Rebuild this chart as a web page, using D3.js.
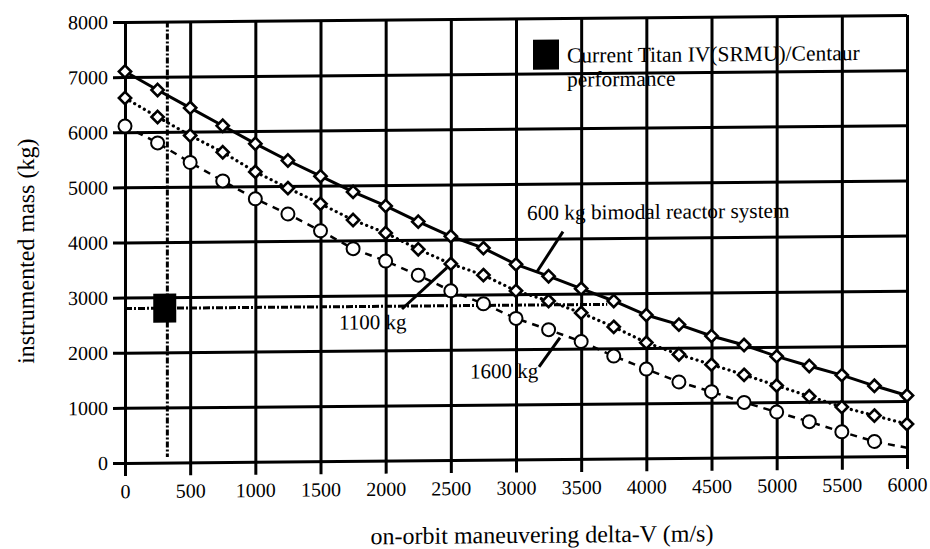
<!DOCTYPE html>
<html><head><meta charset="utf-8">
<script src="https://cdn.jsdelivr.net/npm/d3@7"></script>
<style>body{margin:0;background:#fff}svg text{font-family:"Liberation Serif","Times New Roman",serif;fill:#000}</style>
</head><body><svg id="c" width="930" height="549"></svg>
<script>
// ---- data ----
const deltaV = [0,250,500,750,1000,1250,1500,1750,2000,2250,2500,2750,3000,3250,3500,3750,4000,4250,4500,4750,5000,5250,5500,5750,6000];
const mass600 = [7100,6760,6430,6100,5770,5460,5170,4880,4620,4330,4060,3840,3540,3320,3090,2860,2600,2420,2210,2040,1830,1650,1480,1280,1100];
const mass1100 = [6620,6270,5930,5620,5260,4960,4670,4370,4130,3830,3560,3350,3060,2870,2650,2390,2100,1880,1690,1500,1300,1100,900,740,580];
const mass1600 = [6110,5800,5440,5100,4770,4490,4180,3850,3620,3360,3070,2830,2560,2350,2130,1860,1620,1380,1200,1000,820,640,450,270,150];
const xTicks = [0,500,1000,1500,2000,2500,3000,3500,4000,4500,5000,5500,6000];
const yTicks = [0,1000,2000,3000,4000,5000,6000,7000,8000];
const titanDeltaV = 305, titanMass = 2800;
const guideDeltaV = 325, guideMass = 2800;
const guideVEnd = 100, guideHEnd = 3700;
const legendText = ["Current Titan IV(SRMU)/Centaur", "performance"];
const labels = ["600 kg bimodal reactor system", "1100 kg", "1600 kg"];
const xTitle = "on-orbit maneuvering delta-V (m/s)";
const yTitle = "instrumented mass (kg)";

// ---- layout ----
const L = 125, R = 907, T = 18.5, B = 459.5;
const svg = d3.select("#c");
const g = svg.append("g").attr("transform","translate(516,240) skewY(-0.5) translate(-516,-240)");
const x = d3.scaleLinear().domain([0,6000]).range([L,R]);
const y = d3.scaleLinear().domain([0,8000]).range([B,T]);

// grid
const gx = g.append("g").attr("transform",`translate(0,${B})`)
  .call(d3.axisBottom(x).tickValues(xTicks).tickSize(-(B-T)).tickFormat(""));
gx.selectAll("line").attr("stroke","#000").attr("stroke-width",3);
gx.select(".domain").remove();
const gy = g.append("g").attr("transform",`translate(${L},0)`)
  .call(d3.axisLeft(y).tickValues(yTicks).tickSize(-(R-L)).tickFormat(""));
gy.selectAll("line").attr("stroke","#000").attr("stroke-width",3);
gy.select(".domain").remove();

// axes with outer ticks and labels
const ax = g.append("g").attr("transform",`translate(0,${B})`)
  .call(d3.axisBottom(x).tickValues(xTicks).tickSize(13).tickPadding(8).tickFormat(d3.format("d")));
ax.select(".domain").remove();
ax.attr("font-family","Liberation Serif");
ax.selectAll("line").attr("stroke","#000").attr("stroke-width",3);
ax.selectAll("text").attr("font-size",20).attr("fill","#000");
const ay = g.append("g").attr("transform",`translate(${L},0)`)
  .call(d3.axisLeft(y).tickValues(yTicks).tickSize(12).tickPadding(5).tickFormat(d3.format("d")));
ay.select(".domain").remove();
ay.attr("font-family","Liberation Serif");
ay.selectAll("line").attr("stroke","#000").attr("stroke-width",3);
ay.selectAll("text").attr("font-size",20).attr("fill","#000");

// reference guide lines
g.append("line").attr("x1",x(guideDeltaV)).attr("x2",x(guideDeltaV))
  .attr("y1",y(8000)).attr("y2",y(guideVEnd))
  .attr("stroke","#000").attr("stroke-width",3).attr("stroke-dasharray","6,2,2,2");
g.append("line").attr("x1",x(0)).attr("x2",x(guideHEnd))
  .attr("y1",y(guideMass)).attr("y2",y(guideMass))
  .attr("stroke","#000").attr("stroke-width",3).attr("stroke-dasharray","7,2,2,2");

// series lines
const series = [
  {vals: mass600, dash: null, width: 3, marker: "diamond"},
  {vals: mass1100, dash: "0.1,5.5", width: 3.2, marker: "diamond", cap: "round"},
  {vals: mass1600, dash: "7,6", width: 2.5, marker: "circle", skipLast: true}
];
const line = d3.line().x(d => x(d[0])).y(d => y(d[1]));
series.forEach(s => {
  const pts = deltaV.map((v,i) => [v, s.vals[i]]);
  g.append("path").datum(pts).attr("d",line).attr("fill","none")
    .attr("stroke","#000").attr("stroke-width",s.width)
    .attr("stroke-dasharray",s.dash).attr("stroke-linecap",s.cap || "butt");
  const mp = s.skipLast ? pts.slice(0,-1) : pts;
  if (s.marker === "diamond") {
    g.append("g").selectAll("path").data(mp).join("path")
      .attr("d",d3.symbol().type(d3.symbolDiamond2).size(95))
      .attr("transform",d => `translate(${x(d[0])},${y(d[1])})`)
      .attr("fill","#fff").attr("stroke","#000").attr("stroke-width",2.6);
  } else {
    g.append("g").selectAll("circle").data(mp).join("circle")
      .attr("cx",d => x(d[0])).attr("cy",d => y(d[1])).attr("r",6.5)
      .attr("fill","#fff").attr("stroke","#000").attr("stroke-width",2);
  }
});

// Titan marker
g.append("rect").attr("x",x(titanDeltaV)-11.5).attr("y",y(titanMass)-14.5)
  .attr("width",23).attr("height",29).attr("fill","#000");

// legend
g.append("rect").attr("x",533).attr("y",40).attr("width",26).attr("height",30).attr("fill","#000");
g.append("text").attr("x",567).attr("y",63).attr("font-size",21.5).text(legendText[0]);
g.append("text").attr("x",567).attr("y",87).attr("font-size",21.5).text(legendText[1]);

// annotation labels and leaders
g.append("text").attr("x",527).attr("y",220).attr("font-size",21.3).text(labels[0]);
g.append("line").attr("x1",563).attr("y1",232).attr("x2",537).attr("y2",272).attr("stroke","#000").attr("stroke-width",3);
g.append("text").attr("x",339).attr("y",328).attr("font-size",21).text(labels[1]);
g.append("line").attr("x1",402).attr("y1",308).attr("x2",447).attr("y2",267).attr("stroke","#000").attr("stroke-width",3);
g.append("text").attr("x",470).attr("y",378).attr("font-size",21).text(labels[2]);
g.append("line").attr("x1",539).attr("y1",367).attr("x2",560).attr("y2",338).attr("stroke","#000").attr("stroke-width",3);

// axis titles
g.append("text").attr("x",542).attr("y",543).attr("text-anchor","middle").attr("font-size",24).text(xTitle);
g.append("text").attr("transform","translate(34,247) rotate(-90)").attr("text-anchor","middle").attr("font-size",24).text(yTitle);
</script></body></html>
